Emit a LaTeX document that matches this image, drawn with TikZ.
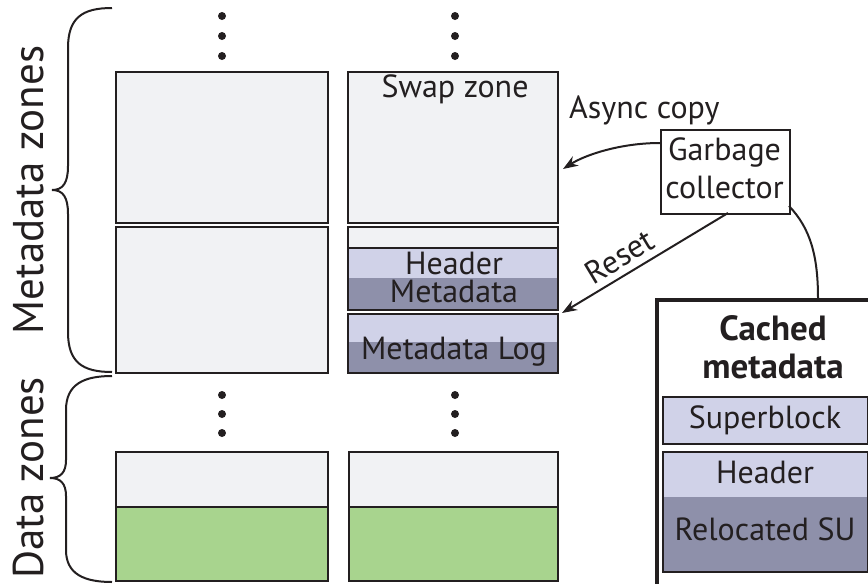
\documentclass[tikz,border=0pt]{standalone}
\usepackage{fontspec}
\setmainfont{PT Sans}
\usetikzlibrary{arrows.meta}
\definecolor{lgray}{HTML}{F1F2F4}
\definecolor{lav}{HTML}{D0D2E8}
\definecolor{dlav}{HTML}{8E90AA}
\definecolor{dgreen}{HTML}{A8D48E}
\definecolor{ink}{HTML}{231F20}
\newcommand\mkbox[6]{\node[zbox, fill=#6, minimum width={(#4-#2)*1pt}, minimum height={(#5-#3)*1pt}] (#1) at (#2,#3) {};}
\newcommand\mkfill[6]{\node[zfill, fill=#6, minimum width={(#4-#2)*1pt}, minimum height={(#5-#3)*1pt}] (#1) at (#2,#3) {};}
\begin{document}
\begin{tikzpicture}[x=1pt,y=-1pt,
  zbox/.style={draw=ink, line width=2.2pt, inner sep=0pt, outer sep=0pt, anchor=north west},
  zfill/.style={draw=none, inner sep=0pt, outer sep=0pt, anchor=north west},
  lbl/.style={text=ink, font=\fontsize{32}{36}\selectfont, inner sep=0pt, anchor=base},
  big/.style={text=ink, font=\fontsize{43}{46}\selectfont, inner sep=0pt, anchor=base, rotate=90},
  dot/.style={circle, fill=ink, inner sep=0pt, minimum size=8pt},
  conn/.style={draw=ink, line width=2pt},
  arr/.style={conn, -{Stealth[length=15pt,width=11pt]}},
  brace/.style={draw=ink, line width=2pt}]
\useasboundingbox (0,0) rectangle (868,584);
% dots
\foreach \cx/\nm in {222/a,455/b}{
  \foreach \cy/\k in {16/1,36/2,56/3}{\node[dot] (t\nm\k) at (\cx,\cy) {};}
  \foreach \cy/\k in {395/1,414/2,433/3}{\node[dot] (m\nm\k) at (\cx,\cy) {};}
}
% left column
\mkbox{L1}{116}{72}{328}{223}{lgray}
\mkbox{L2}{116}{227}{328}{373}{lgray}
% right column
\mkbox{R1}{348}{72}{558}{223}{lgray}
\node[lbl] (swap) at (455,97) {Swap zone};
\mkbox{R2}{348}{227}{558}{248}{lgray}
\mkfill{hdrf}{348}{248}{558}{278}{lav}
\mkfill{mdf}{348}{278}{558}{310}{dlav}
\node[zbox, minimum width=210pt, minimum height=62pt] (R3) at (348,248) {};
\node[lbl] (hdr) at (454,274) {Header};
\node[lbl] (md) at (454,302) {Metadata};
\mkfill{logl}{348}{314}{558}{342}{lav}
\mkfill{logd}{348}{342}{558}{373}{dlav}
\node[zbox, minimum width=210pt, minimum height=59pt] (R4) at (348,314) {};
\node[lbl] (mlog) at (454,359) {Metadata Log};
% data zones
\mkfill{D1a}{116}{452}{328}{507}{lgray}
\mkfill{D1b}{116}{507}{328}{581}{dgreen}
\draw[ink, line width=2.2pt] (D1b.north west) -- (D1b.north east);
\node[zbox, minimum width=212pt, minimum height=129pt] (D1) at (116,452) {};
\mkfill{D2a}{349}{452}{558}{507}{lgray}
\mkfill{D2b}{349}{507}{558}{581}{dgreen}
\draw[ink, line width=2.2pt] (D2b.north west) -- (D2b.north east);
\node[zbox, minimum width=209pt, minimum height=129pt] (D2) at (349,452) {};
% braces
\draw[brace] (112,8) .. controls (82,8) and (68,18) .. (68,48) -- (68,166)
  .. controls (68,183) and (63,190) .. (52,190)
  .. controls (63,190) and (68,197) .. (68,214) -- (68,332)
  .. controls (68,362) and (82,372) .. (112,372);
\draw[brace] (112,376) .. controls (84,376) and (66,384) .. (66,410) -- (66,460)
  .. controls (66,472) and (61,478) .. (50,478)
  .. controls (61,478) and (66,484) .. (66,496) -- (66,550)
  .. controls (66,574) and (84,582) .. (112,582);
\node[big] (mzl) at (43,190) {Metadata zones};
\node[big] (dzl) at (43,478) {Data zones};
% garbage collector
\node[draw=ink, line width=1.6pt, fill=white, minimum width=129pt, minimum height=84pt, inner sep=0pt, anchor=north west] (gc) at (660,129) {};
\node[lbl] (gct1) at (724.5,160) {Garbage};
\node[lbl] (gct2) at (724.5,198) {collector};
\node[lbl, anchor=base west] (async) at (569,118) {Async copy};
\coordinate (gcA) at (660,143);
\coordinate (swapend) at (563,169);
\draw[arr] (gcA) .. controls (620,143) and (585,155) .. (swapend);
\coordinate (gcB) at (728,213);
\coordinate (resend) at (562,313);
\draw[arr] (gcB) -- (resend);
\node[lbl, rotate=31] (reset) at (625,266) {Reset};
% cached metadata
\node[draw=ink, line width=4pt, fill=white, minimum width=240pt, minimum height=286pt, inner sep=0pt, anchor=north west] (cache) at (655,298) {};
\coordinate (gcC) at (789,206);
\draw[conn] (gcC) .. controls (810,228) and (818,255) .. (cache.north -| 818,0);
\node[lbl, font=\bfseries\fontsize{35}{38}\selectfont] (ct1) at (773,340) {Cached};
\node[lbl, font=\bfseries\fontsize{35}{38}\selectfont] (ct2) at (773,378) {metadata};
\node[zbox, fill=lav, minimum width=205pt, minimum height=47pt] (sb) at (663,397) {};
\node[lbl] at (765,428) {Superblock};
\mkfill{chf}{663}{452}{868}{497}{lav}
\mkfill{crf}{663}{497}{868}{572}{dlav}
\node[zbox, minimum width=205pt, minimum height=120pt] (chb) at (663,452) {};
\node[lbl] (chh) at (765,483) {Header};
\node[lbl] (crs) at (765,540) {Relocated SU};
\end{tikzpicture}
\end{document}
